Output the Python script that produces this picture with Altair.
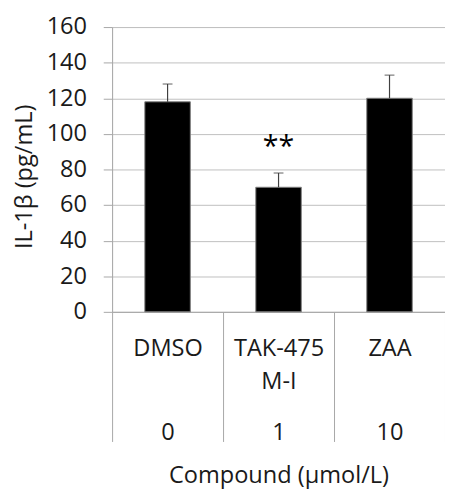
import altair as alt
import pandas as pd

# ---- data ----
compounds = ["DMSO", "TAK-475|M-I", "ZAA"]
doses = ["0", "1", "10"]
means = [118, 70, 120]
errors = [10, 8, 13]
sig = ["", "**", ""]

df = pd.DataFrame({"compound": compounds, "dose": doses, "mean": means,
                   "err": errors, "sig": sig})
df["top"] = df["mean"] + df["err"]

FONT = "Open Sans"
FS = 24
W, H = 339, 290
GRID = "#bfbfbf"
AXC = "#a6a6a6"
TXT = "#1a1a1a"

yaxis = alt.Axis(title="IL-1β (pg/mL)", values=list(range(0, 161, 20)),
                 grid=True, gridColor=GRID, gridWidth=1,
                 domainColor=AXC, tickColor=AXC, tickSize=9,
                 labelFont=FONT, labelFontSize=FS, labelColor=TXT, labelPadding=17,
                 titleFont=FONT, titleFontSize=FS, titleFontWeight="normal", titleColor=TXT,
                 titleX=-82, titleY=152, titleAngle=270, titleAlign="center",
                 titleBaseline="alphabetic")
yscale = alt.Scale(domain=[0, 160], nice=False)

xscale = alt.Scale(domain=compounds, paddingInner=0, paddingOuter=0)
xaxis = alt.Axis(title="Compound (µmol/L)", labelExpr="split(datum.label, '|')", labelAngle=0,
                 tickBand="extent", tickSize=132, tickColor=AXC, domainColor=AXC,
                 labelPadding=-88, labelBaseline="alphabetic", labelLineHeight=34,
                 labelFont=FONT, labelFontSize=FS, labelColor=TXT,
                 titleFont=FONT, titleFontSize=FS, titleFontWeight="normal", titleColor=TXT,
                 titleY=174, titleBaseline="alphabetic")

X = alt.X("compound:N", scale=xscale, sort=compounds, axis=xaxis)
base = alt.Chart(df)

bars = base.mark_bar(color="black", stroke="#7f7f7f", strokeWidth=1,
                     width=alt.RelativeBandSize(0.41)).encode(
    x=X, y=alt.Y("mean:Q", scale=yscale, axis=yaxis))
err = base.mark_rule(color="#404040", strokeWidth=1.2).encode(
    x=X, y=alt.Y("mean:Q", scale=yscale, axis=yaxis), y2="top:Q")
cap = base.mark_tick(orient="horizontal", size=10, thickness=1.2, color="#404040").encode(
    x=X, y=alt.Y("top:Q", scale=yscale, axis=yaxis))
stars = base.mark_text(font=FONT, fontSize=29, baseline="alphabetic", dy=-17, color="#000").encode(
    x=X, y=alt.Y("top:Q", scale=yscale, axis=yaxis), text="sig:N")

main = alt.layer(bars, err, cap, stars)

dose_layer = base.mark_point(opacity=0).encode(
    x=alt.X("dose:N", sort=doses, scale=alt.Scale(domain=doses, paddingInner=0, paddingOuter=0),
            axis=alt.Axis(orient="bottom", title=None, domain=False, ticks=False, labelAngle=0,
                          labelPadding=130, labelBaseline="alphabetic",
                          labelFont=FONT, labelFontSize=FS, labelColor=TXT)),
    y=alt.Y("mean:Q", scale=yscale, axis=yaxis))

chart = alt.layer(main, dose_layer).resolve_scale(x="independent").properties(
    width=W, height=H,
    autosize=alt.AutoSizeParams(type="none"),
    padding={"left": 106, "top": 15, "right": 0, "bottom": 177},
).configure_view(stroke=None).configure(background="white")

chart.save("out.html", embed_options={"renderer": "svg", "actions": False})
